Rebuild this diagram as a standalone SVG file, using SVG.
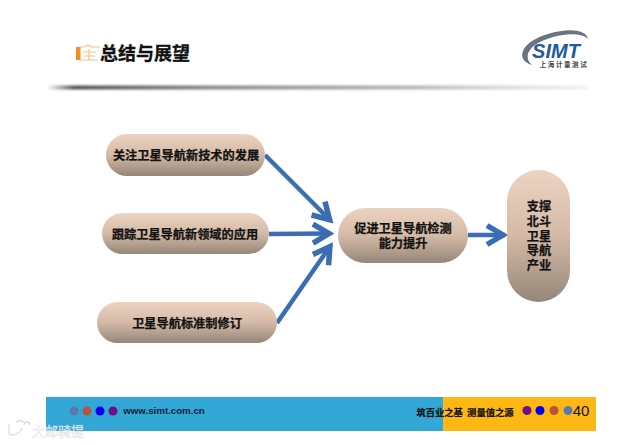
<svg xmlns="http://www.w3.org/2000/svg" width="640" height="445" viewBox="0 0 640 445">
<style>
text{font-family:"Noto Sans CJK SC","Liberation Sans",sans-serif;font-weight:700;fill:#111;text-anchor:middle}
.l{font-size:12.200px;stroke:#111;stroke-width:.25px}
.c{fill:none;stroke:#3a6db3;stroke-width:4.500;marker-end:url(#a)}
.n{fill:url(#g)}
.w{font-family:"Liberation Sans",sans-serif}
</style>
<defs>
<linearGradient id="g" x1="0" y1="0" x2="0" y2="1"><stop offset="0" stop-color="#ecd4c2"/><stop offset=".5" stop-color="#d4baa6"/><stop offset="1" stop-color="#958678"/></linearGradient>
<linearGradient id="sh" x1="0" y1="0" x2="1" y2="0"><stop offset="0" stop-color="#555" stop-opacity="0"/><stop offset=".05" stop-color="#555"/><stop offset=".3" stop-color="#8a8a8a"/><stop offset=".7" stop-color="#bbb"/><stop offset="1" stop-color="#ddd" stop-opacity=".4"/></linearGradient>
<filter id="b" x="-5%" y="-150%" width="110%" height="400%"><feGaussianBlur stdDeviation="1.300"/></filter>
<marker id="a" markerUnits="userSpaceOnUse" markerWidth="30" markerHeight="30" refX="24" refY="15" orient="auto"><path d="M6 5.500L22 15L6 24.500" fill="none" stroke="#3a6db3" stroke-width="5.500"/></marker>
</defs>
<rect width="640" height="445" fill="#fff"/>
<g id="header">
<path d="M80 47H84L88 45L92 47H100M83 52H96M84 56H95M89 49V60M80 60H98" fill="none" stroke="#eec48a" stroke-width="1.200"/>
<rect x="76" y="47" width="4.500" height="13" fill="#ee8f22"/>
<text x="145" y="60" font-size="18" stroke="#111" stroke-width=".3">总结与展望</text>
<rect x="47" y="85.500" width="541" height="4" fill="url(#sh)" filter="url(#b)"/>
</g>
<g id="logo">
<path d="M532 65C515 60 520 42 548 34C568 28 586 29 588 39C582 33 566 33 550 38C530 44 522 56 532 65Z" fill="#6b747c"/>
<text><tspan class="w" x="556" y="58" font-size="20" font-style="italic" style="fill:#1f5aa0">SIMT</tspan><tspan x="564" y="67" font-size="6.500" style="letter-spacing:1.600px;fill:#444">上海计量测试</tspan></text>
</g>
<g id="connectors">
<path class="c" d="M265 155L331 221"/>
<path class="c" d="M269 234L331 233.500"/>
<path class="c" d="M277 323L331 245"/>
<path class="c" d="M468 235L505 235"/>
</g>
<g id="n1"><rect class="n" x="106" y="134" width="159" height="42" rx="21"/><text class="l" x="186" y="160">关注卫星导航新技术的发展</text></g>
<g id="n2"><rect class="n" x="102" y="213" width="167" height="41" rx="20.500"/><text class="l" x="185" y="238.500">跟踪卫星导航新领域的应用</text></g>
<g id="n3"><rect class="n" x="97" y="302" width="180" height="41" rx="20.500"/><text class="l" x="187" y="327.500">卫星导航标准制修订</text></g>
<g id="n4"><rect class="n" x="338" y="208" width="130" height="55" rx="27.500"/><text class="l"><tspan x="403" y="232.500">促进卫星导航检测</tspan><tspan x="403" y="247.500">能力提升</tspan></text></g>
<g id="n5"><rect class="n" x="507" y="170" width="63" height="132" rx="31.500"/>
<text class="l"><tspan x="539" y="211">支撑</tspan><tspan x="539" y="226">北斗</tspan><tspan x="539" y="241">卫星</tspan><tspan x="539" y="255">导航</tspan><tspan x="539" y="270">产业</tspan></text></g>
<g id="footer">
<rect x="46" y="397" width="397" height="34" fill="#33a7d6"/>
<rect x="443" y="397" width="153" height="34" fill="#fdb813"/>
<circle cx="74" cy="411" r="4.500" fill="#5b78b0"/><circle cx="87" cy="411" r="4.500" fill="#b9553a"/><circle cx="100" cy="411" r="4.500" fill="#0000f0"/><circle cx="113" cy="411" r="4.500" fill="#6f1180"/>
<text class="w" x="164" y="414" font-size="9.700" style="fill:#10203c">www.simt.com.cn</text>
<text x="465" y="416" font-size="9.300" stroke="#111" stroke-width=".2">筑百业之基&#160;&#160;测量值之源</text>
<circle cx="527" cy="410.500" r="4.500" fill="#6f1180"/><circle cx="540" cy="410.500" r="4.500" fill="#0000f0"/><circle cx="554" cy="410.500" r="4.500" fill="#b9553a"/><circle cx="568" cy="410.500" r="4.500" fill="#5b78b0"/>
<text class="w" x="581" y="415.500" font-size="15" style="font-weight:400">40</text>
</g>
<g id="watermark">
<path d="M9 424V434C14 437 20 433 22 428M24 425a3 3 0 1 1 6 0M17 423a3 2.500 0 1 1 6 0" fill="none" stroke="#dcdcdc" stroke-width="1.300"/>
<text x="58" y="436" font-size="13" style="font-weight:400;fill:#fff;fill-opacity:.75;stroke:#ddd;stroke-width:.4px">大邮骑提</text>
</g>
</svg>
